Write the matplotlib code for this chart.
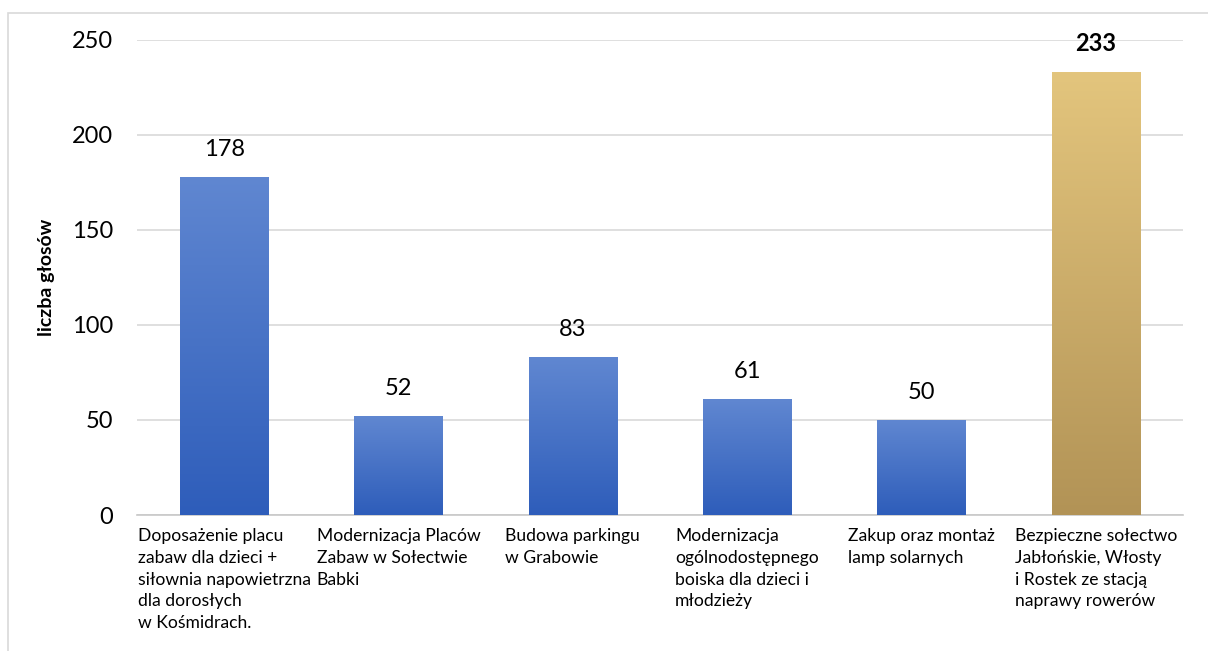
import numpy as np
import matplotlib
matplotlib.use("Agg")
import matplotlib.pyplot as plt
from matplotlib.patches import Rectangle
from matplotlib.colors import LinearSegmentedColormap

plt.rcParams['font.family'] = ['Lato', 'DejaVu Sans']

# data
labels = ["Doposażenie placu\nzabaw dla dzieci +\nsiłownia napowietrzna\ndla dorosłych\nw Kośmidrach.",
          "Modernizacja Placów\nZabaw w Sołectwie\nBabki",
          "Budowa parkingu\nw Grabowie",
          "Modernizacja\nogólnodostępnego\nboiska dla dzieci i\nmłodzieży",
          "Zakup oraz montaż\nlamp solarnych",
          "Bezpieczne sołectwo\nJabłońskie, Włosty\ni Rostek ze stacją\nnaprawy rowerów"]
votes = [178, 52, 83, 61, 50, 233]
winner = 5
yticks = [0, 50, 100, 150, 200, 250]

blue = LinearSegmentedColormap.from_list("blue", ["#2E5DBA", "#6087D1"])
gold = LinearSegmentedColormap.from_list("gold", ["#B29356", "#E3C57D"])

fig = plt.figure(figsize=(12.08, 6.51), dpi=100)
ax = fig.add_axes([0.1134, 0.2089, 0.8658, 0.7297])

# outer frame of the chart area
fig.patches.append(Rectangle((0.0065, -0.05), 1.2, 1.05 - 13 / 651, transform=fig.transFigure,
                             fill=False, edgecolor="#D9D9D9", lw=1.2))

x = np.arange(len(votes))
bars = ax.bar(x, votes, width=0.505, color="none", zorder=3)
grad = np.linspace(0, 1, 256).reshape(-1, 1)
for i, b in enumerate(bars):
    cmap = gold if i == winner else blue
    x0, w, h = b.get_x(), b.get_width(), b.get_height()
    im = ax.imshow(grad, cmap=cmap, origin="lower", aspect="auto",
                   extent=[x0, x0 + w, 0, h], zorder=3)
    im.set_clip_path(b)
    ax.text(b.get_x() + w / 2, h + 9, str(votes[i]), ha="center", va="bottom",
            fontsize=17, fontweight="bold" if i == winner else "normal", color="#000000")

ax.set_xlim(-0.5, len(votes) - 0.5)
ax.set_ylim(0, 250)
ax.set_yticks(yticks)
ax.tick_params(axis="y", length=0, labelsize=17, pad=17)
ax.set_xticks([])
for xi, lab in zip(x, labels):
    ax.text(xi, -7, lab, ha="center", va="top", multialignment="left",
            fontsize=12.6, linespacing=1.44, color="#000000")

ax.grid(axis="y", color="#D9D9D9", lw=1.2, zorder=0)
for s in ["top", "right", "left"]:
    ax.spines[s].set_visible(False)
ax.spines["bottom"].set_color("#C8C8C8")
ax.spines["bottom"].set_linewidth(1.2)

ax.set_ylabel("liczba głosów", fontsize=14, fontweight="bold", labelpad=12)

fig.savefig("out.png", dpi=100)
